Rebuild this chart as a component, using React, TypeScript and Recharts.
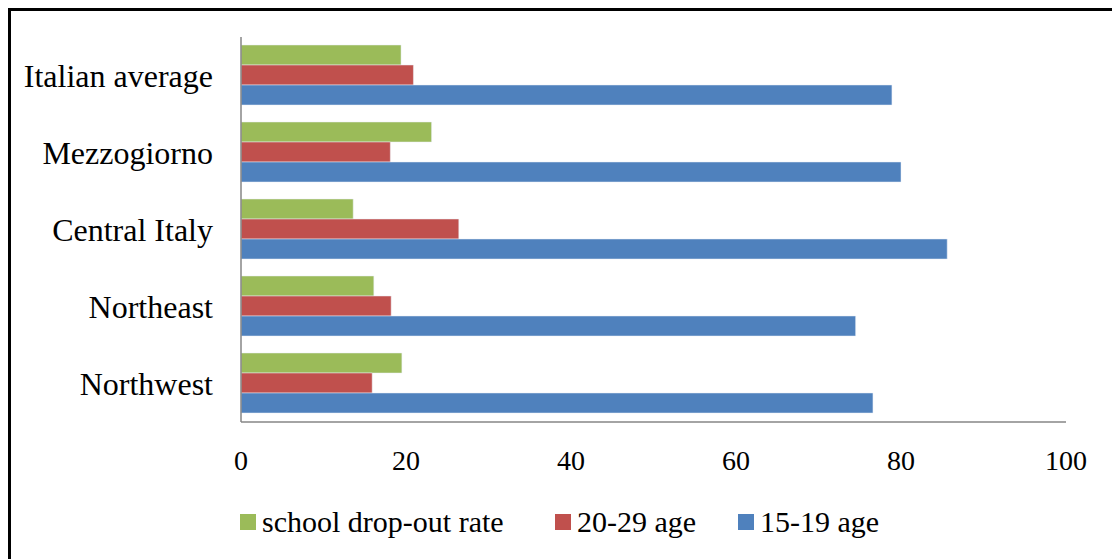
import React from 'react'
import { BarChart, Bar, XAxis, YAxis } from 'recharts'

// Regions listed top to bottom, as drawn
const regions = ['Italian average', 'Mezzogiorno', 'Central Italy', 'Northeast', 'Northwest']
const dropOut = [19.4, 23.1, 13.6, 16.1, 19.5]
const age2029 = [20.9, 18.1, 26.4, 18.2, 15.9]
const age1519 = [78.9, 80.0, 85.6, 74.5, 76.6]
const xTicks = [0, 20, 40, 60, 80, 100]

const series = [
  { key: 'dropOut', name: 'school drop-out rate', color: '#9BBB59' },
  { key: 'age2029', name: '20-29 age', color: '#C0504D' },
  { key: 'age1519', name: '15-19 age', color: '#4F81BD' },
]
// left edge of each legend item
const legendLeft = [240, 555, 738]

const FONT = 'Liberation Serif, serif'

const data = regions.map((region, i) => ({
  region,
  dropOut: dropOut[i],
  age2029: age2029[i],
  age1519: age1519[i],
}))

export default function App() {
  return (
    <div style={{ position: 'fixed', left: 0, top: 0, width: 1112, height: 559, overflow: 'hidden', background: '#fff', fontFamily: FONT }}>
      <div style={{ position: 'absolute', left: 8, top: 8, width: 1200, height: 700, borderTop: '3px solid #000', borderLeft: '3px solid #000' }} />
      <div style={{ position: 'absolute', left: 0, top: 0 }}>
        <BarChart
          width={1112}
          height={559}
          data={data}
          layout="vertical"
          margin={{ top: 37, right: 46, left: 0, bottom: 87 }}
          barCategoryGap={8}
          barGap={0}
          style={{ fontFamily: FONT }}
        >
          <XAxis
            type="number"
            domain={[0, 100]}
            ticks={xTicks}
            tickLine={false}
            tickSize={0}
            tickMargin={28}
            axisLine={{ stroke: '#868686', strokeWidth: 1.5 }}
            tick={{ fontSize: 28, fill: '#000', fontFamily: FONT }}
            height={50}
          />
          <YAxis
            type="category"
            dataKey="region"
            width={241}
            tickLine={false}
            tickSize={0}
            tickMargin={28}
            axisLine={{ stroke: '#868686', strokeWidth: 1.5 }}
            tick={{ fontSize: 32, fill: '#000', fontFamily: FONT }}
          />
          {series.map(s => (
            <Bar key={s.key} dataKey={s.key} name={s.name} fill={s.color} stroke="#e8eef6" strokeWidth={0.5} isAnimationActive={false} />
          ))}
        </BarChart>
      </div>
      {series.map((s, i) => (
        <div key={s.key} style={{ position: 'absolute', left: legendLeft[i], top: 503, height: 38, display: 'flex', alignItems: 'center', whiteSpace: 'nowrap', fontSize: 30, color: '#000' }}>
          <span style={{ width: 16, height: 16, background: s.color, display: 'inline-block', marginRight: 6 }} />
          <span>{s.name}</span>
        </div>
      ))}
    </div>
  )
}
